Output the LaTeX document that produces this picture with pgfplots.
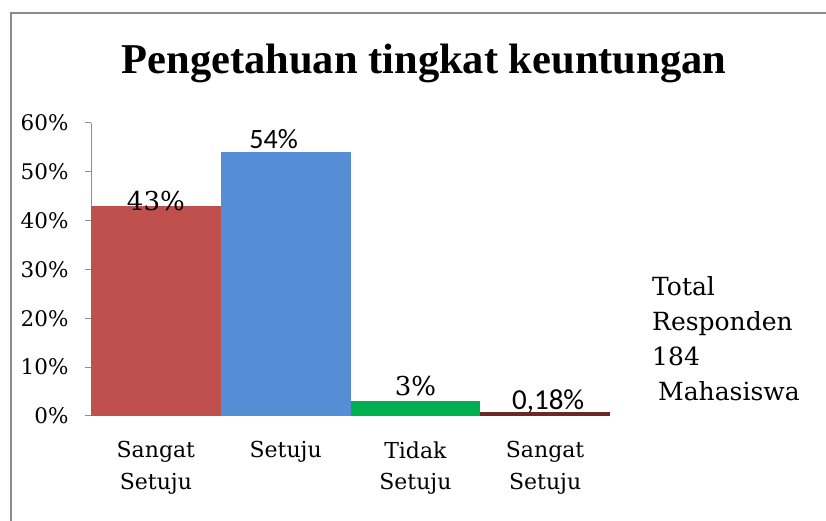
\documentclass[border=0pt]{standalone}
\usepackage{fontspec}
\setmainfont{DejaVu Serif}
\newfontfamily\titlefont{Liberation Serif}
\newfontfamily\calfont{Carlito}
\usepackage{pgfplots}
\pgfplotsset{compat=1.18}
\definecolor{cRed}{HTML}{C0504D}
\definecolor{cBlue}{HTML}{558ED5}
\definecolor{cGreen}{HTML}{00B050}
\definecolor{cMaroon}{HTML}{6A2826}
\definecolor{cAxis}{HTML}{8C8C8C}
\begin{document}
\begin{tikzpicture}[x=1pt,y=1pt]
\path[use as bounding box] (0,0) rectangle (826,521);
\draw[cAxis, line width=1.2pt] (11,0) -- (11,508) -- (826,508);
\node[font=\titlefont\bfseries\fontsize{42.5}{50}\selectfont, anchor=center] at (424,458) {Pengetahuan tingkat keuntungan};
\begin{axis}[
  at={(91pt,105pt)}, anchor=south west,
  scale only axis, width=519pt, height=293pt,
  xmin=-0.5, xmax=3.5, ymin=0, ymax=60,
  axis x line*=bottom, axis y line*=left,
  axis line style={draw=cAxis, line width=1pt, -},
  ytick={0,10,20,30,40,50,60},
  yticklabels={0\%,10\%,20\%,30\%,40\%,50\%,60\%},
  y tick label style={font=\fontsize{21.5}{24}\selectfont, xshift=-13pt},
  y tick style={draw=cAxis, line width=1pt},
  tick align=outside, major tick length=6pt,
  xtick={0,1,2,3},
  xticklabels={{Sangat\\Setuju},{Setuju},{Tidak\\Setuju},{Sangat\\Setuju}},
  x tick label style={align=center, font=\fontsize{22}{31.5}\selectfont, yshift=-16pt},
  x tick style={draw=none},
  ybar, bar width=1,
  clip=false,
]
\addplot[fill=cRed, draw=none, bar shift=0pt, nodes near coords={43\%},
  nodes near coords style={anchor=center, yshift=5pt, font=\fontsize{26}{30}\selectfont, text=black}]
  coordinates {(0,43)};
\addplot[fill=cBlue, draw=none, bar shift=0pt, nodes near coords={54\%},
  nodes near coords style={anchor=center, yshift=13pt, xshift=-12pt, font=\calfont\fontsize{28}{32}\selectfont, text=black}]
  coordinates {(1,54)};
\addplot[fill=cGreen, draw=none, bar shift=0pt, nodes near coords={3\%},
  nodes near coords style={anchor=center, yshift=15pt, font=\fontsize{26}{30}\selectfont, text=black}]
  coordinates {(2,3)};
\addplot[fill=cMaroon, draw=none, bar shift=0pt, nodes near coords={0,18\%},
  nodes near coords style={anchor=center, yshift=11pt, xshift=3pt, font=\calfont\fontsize{29}{32}\selectfont, text=black}]
  coordinates {(3,0.8)};
\end{axis}
\node[anchor=north west, align=left, font=\fontsize{25}{35}\selectfont, inner sep=0pt] at (652,245) {Total\\Responden\\184\\\hspace*{6pt}Mahasiswa};
\end{tikzpicture}
\end{document}
